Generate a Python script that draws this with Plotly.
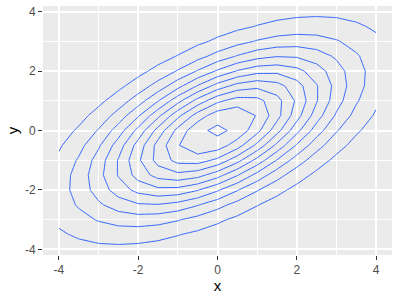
import numpy as np
import plotly.graph_objects as go

# Grid on which the density surface is evaluated (read from the polygon vertices)
x_vals = [-4.0, -3.5, -3.0, -2.5, -2.0, -1.5, -1.0, -0.5, 0.0,
          0.5, 1.0, 1.5, 2.0, 2.5, 3.0, 3.5, 4.0]
y_vals = [-4.0, -3.5, -3.0, -2.5, -2.0, -1.5, -1.0, -0.5, 0.0,
          0.5, 1.0, 1.5, 2.0, 2.5, 3.0, 3.5, 4.0]

# Bivariate normal parameters
mean_xy = [0.0, 0.0]
cov_xx = 4.0
cov_xy = 2.0
cov_yy = 3.0

# Contour breaks (pretty breaks)
level_start = 0.005
level_end = 0.055
level_step = 0.005

tick_vals = [-4, -2, 0, 2, 4]
tick_text = ["-4", "-2", "0", "2", "4"]

X, Y = np.meshgrid(np.array(x_vals), np.array(y_vals))
det = cov_xx * cov_yy - cov_xy ** 2
dx = X - mean_xy[0]
dy = Y - mean_xy[1]
Q = (cov_yy * dx ** 2 - 2 * cov_xy * dx * dy + cov_xx * dy ** 2) / det
Z = np.exp(-0.5 * Q) / (2 * np.pi * np.sqrt(det))

line_col = "#3366FF"
fig = go.Figure(go.Contour(
    x=x_vals, y=y_vals, z=Z,
    autocontour=False,
    contours=dict(coloring="lines", start=level_start, end=level_end, size=level_step),
    line=dict(width=1, smoothing=0),
    colorscale=[[0, line_col], [1, line_col]],
    showscale=False,
    hoverinfo="skip",
))

font_family = "Liberation Sans, Arial, sans-serif"
axis_common = dict(
    showgrid=True, gridcolor="white", gridwidth=1.6,
    zeroline=False, showline=False,
    ticks="outside", ticklen=4, tickwidth=1, tickcolor="#333333",
    tickfont=dict(family=font_family, size=12, color="#4D4D4D"),
    tickmode="array", tickvals=tick_vals, ticktext=tick_text,
    minor=dict(showgrid=True, gridcolor="white", gridwidth=0.8,
               tickmode="array", tickvals=[-3, -1, 1, 3], ticks=""),
)

fig.update_layout(
    width=400, height=300,
    margin=dict(l=43, r=8, t=6, b=45),
    paper_bgcolor="white",
    plot_bgcolor="#EBEBEB",
    showlegend=False,
    font=dict(family=font_family),
    xaxis=dict(range=[-4.4, 4.4],
               title=dict(text="x", font=dict(family=font_family, size=15, color="black"), standoff=4),
               **axis_common),
    yaxis=dict(range=[-4.19, 4.19],
               title=dict(text="y", font=dict(family=font_family, size=15, color="black"), standoff=2),
               **axis_common),
)

fig.write_html("out.html")
